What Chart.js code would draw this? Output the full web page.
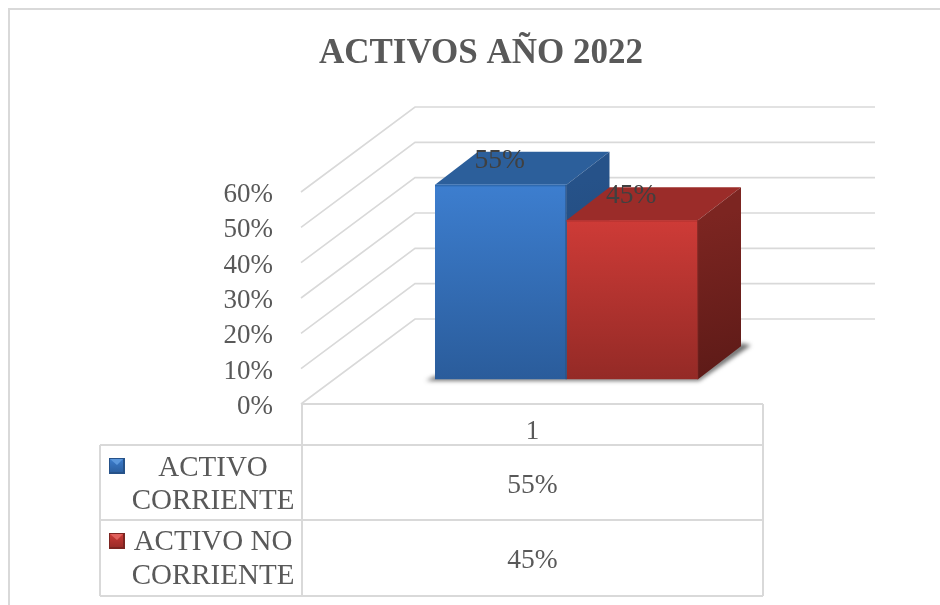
<!DOCTYPE html>
<html>
<head>
<meta charset="utf-8">
<style>html,body{margin:0;padding:0;background:#fff}canvas{display:block}</style>
<script src="https://cdn.jsdelivr.net/npm/chart.js@4"></script>
</head>
<body>
<canvas id="c" width="940" height="605"></canvas>
<script>
const chartTitle = "ACTIVOS AÑO 2022";
const categories = ["1"];
const seriesOneName = ["ACTIVO", "CORRIENTE"];
const seriesTwoName = ["ACTIVO NO", "CORRIENTE"];
const seriesOneValues = [55];
const seriesTwoValues = [45];
const yTickMax = 60;
const yTickStep = 10;

const FONT = '"Liberation Serif","Times New Roman",serif';
const TEXT = '#595959', LABEL = '#404040', LINE = '#d9d9d9';
const wall = {dx: 113, dy: -85};
const barShift = {dx: 34, dy: -24.8};
const depth = {dx: 43, dy: -33};
const palette = [
  {top:'#3d7ecf', bot:'#2a5c9b', lid:'#2c5f9b', s1:'#265289', s2:'#1f4470', e:'#2f6ab0', k:'#5b97dc', d:'#2a4f7d'},
  {top:'#ce3b37', bot:'#942a26', lid:'#9b2c29', s1:'#7c2521', s2:'#5c1a17', e:'#b83431', k:'#e0605c', d:'#8e2c28'}
];

function frontFill(i){
  return c => {
    const ch = c.chart, a = ch.chartArea;
    if(!a) return palette[i].top;
    const y = ch.scales.y;
    const t = y.getPixelForValue(c.raw === undefined ? 0 : c.raw);
    const g = ch.ctx.createLinearGradient(0,t,0,y.getPixelForValue(0));
    g.addColorStop(0,palette[i].top); g.addColorStop(1,palette[i].bot);
    return g;
  };
}
function poly(ctx,pts){ctx.beginPath();pts.forEach((p,i)=>i?ctx.lineTo(p[0],p[1]):ctx.moveTo(p[0],p[1]));ctx.closePath();}

const frame = {
  id:'frame',
  beforeDraw(ch){
    const c = ch.ctx; c.save();
    c.strokeStyle = LINE; c.lineWidth = 2;
    c.beginPath(); c.moveTo(9,605); c.lineTo(9,9); c.lineTo(940,9); c.stroke();
    c.restore();
  }
};
const walls = {
  id:'walls',
  beforeDatasetsDraw(ch){
    const c = ch.ctx, y = ch.scales.y, a = ch.chartArea;
    c.save(); c.strokeStyle = LINE; c.lineWidth = 1.6;
    y.ticks.forEach(t=>{
      const p = y.getPixelForValue(t.value);
      c.beginPath(); c.moveTo(a.left-1,p);
      c.lineTo(a.left+wall.dx,p+wall.dy);
      c.lineTo(a.right+wall.dx-1,p+wall.dy);
      c.stroke();
    });
    c.restore();
  }
};
const bars3d = {
  id:'bars3d',
  beforeDatasetsDraw(ch){
    const c = ch.ctx;
    c.save();
    c.translate(barShift.dx,barShift.dy);
    const m0 = ch.getDatasetMeta(0).data[0], m1 = ch.getDatasetMeta(1).data[0];
    const L = m0.x-m0.width/2, R = m1.x+m1.width/2, B = m0.base;
    c.save(); c.filter='blur(2px)'; c.fillStyle='rgba(60,60,60,.75)';
    poly(c,[[L-9,B+1.5],[R+1,B+1.5],[R+depth.dx+10,B+depth.dy-1],[R+depth.dx,B+depth.dy-3],[R,B-3],[L,B-3]]);
    c.fill(); c.restore();
    [m0,m1].forEach((b,i)=>{
      const l=b.x-b.width/2, r=b.x+b.width/2, t=b.y, p=palette[i];
      c.fillStyle=p.lid;
      poly(c,[[l,t],[r,t],[r+depth.dx,t+depth.dy],[l+depth.dx,t+depth.dy]]); c.fill();
      const g=c.createLinearGradient(r,t,r+depth.dx,B);
      g.addColorStop(0,p.s1); g.addColorStop(1,p.s2);
      c.fillStyle=g;
      poly(c,[[r,t],[r+depth.dx,t+depth.dy],[r+depth.dx,b.base+depth.dy],[r,b.base]]); c.fill();
    });
  },
  afterDatasetsDraw(ch){
    const c = ch.ctx;
    [0,1].forEach(i=>{
      const b=ch.getDatasetMeta(i).data[0], l=b.x-b.width/2;
      c.fillStyle=palette[i].e; c.fillRect(l,b.y,b.width,1.5);
      c.fillStyle=palette[i].d; c.fillRect(l+b.width-1,b.y,1.2,b.base-b.y);
    });
    c.restore();
    c.fillStyle=LABEL; c.font='27.5px '+FONT; c.textAlign='center'; c.textBaseline='middle';
    ch.data.datasets.forEach((ds,i)=>{
      const b=ch.getDatasetMeta(i).data[0];
      c.fillText(ds.data[0]+'%',b.x+barShift.dx-1,b.y+barShift.dy-24);
    });
  }
};
const dataTable = {
  id:'dataTable',
  afterDraw(ch){
    const c = ch.ctx, a = ch.chartArea;
    const rows=[445,520,596], keyX=100, x0=a.left, x1=a.right;
    c.save(); c.strokeStyle=LINE; c.lineWidth=2;
    c.beginPath();
    c.moveTo(x0,a.bottom); c.lineTo(x1,a.bottom);
    rows.forEach(r=>{c.moveTo(keyX,r);c.lineTo(x1,r);});
    c.moveTo(x0,a.bottom); c.lineTo(x0,rows[2]);
    c.moveTo(x1,a.bottom); c.lineTo(x1,rows[2]);
    c.moveTo(keyX,rows[0]); c.lineTo(keyX,rows[2]);
    c.stroke();
    c.font='29px '+FONT; c.textAlign='center'; c.textBaseline='middle'; c.fillStyle=TEXT;
    const names=[seriesOneName,seriesTwoName], lineY=[[468,501],[542,576]], keyY=[458,533];
    names.forEach((n,i)=>{
      c.fillText(n[0],213,lineY[i][0]);
      c.fillText(n[1],213,lineY[i][1]);
      const p=palette[i], kx=109, ky=keyY[i], s=16;
      const g=c.createLinearGradient(0,ky,0,ky+s);
      g.addColorStop(0,p.top); g.addColorStop(1,p.bot);
      c.fillStyle=p.s1; c.fillRect(kx,ky,s,s);
      c.fillStyle=g; c.fillRect(kx+1,ky+1,s-3,s-3);
      c.fillStyle=p.k; poly(c,[[kx+1,ky+1],[kx+s-2,ky+1],[kx+s/2,ky+7]]); c.fill();
      c.fillStyle=TEXT;
    });
    c.font='27.5px '+FONT;
    c.fillText(seriesOneValues[0]+'%',(x0+x1)/2,486);
    c.fillText(seriesTwoValues[0]+'%',(x0+x1)/2,561);
    c.restore();
  }
};

new Chart(document.getElementById('c'),{
  type:'bar',
  data:{
    labels:categories,
    datasets:[
      {label:seriesOneName.join(' '),data:seriesOneValues,backgroundColor:frontFill(0),clip:false},
      {label:seriesTwoName.join(' '),data:seriesTwoValues,backgroundColor:frontFill(1),clip:false}
    ]
  },
  plugins:[frame,walls,bars3d,dataTable],
  options:{
    responsive:false,
    animation:false,
    events:[],
    layout:{padding:{left:30,right:8,top:0,bottom:0}},
    datasets:{bar:{categoryPercentage:0.5705,barPercentage:1}},
    plugins:{
      legend:{display:false},
      tooltip:{enabled:false},
      title:{
        display:true,text:chartTitle,color:TEXT,
        font:{family:FONT,size:35,weight:'bold',lineHeight:1.2},
        padding:{top:33,bottom:117}
      }
    },
    scales:{
      x:{
        grid:{display:false,drawTicks:false},border:{display:false},
        ticks:{color:TEXT,font:{family:FONT,size:27},padding:12,maxRotation:0},
        afterFit(s){s.height=201;}
      },
      y:{
        min:0,max:yTickMax,
        grid:{display:false,drawTicks:false},border:{display:false},
        ticks:{stepSize:yTickStep,autoSkip:false,color:TEXT,font:{family:FONT,size:27},padding:29,labelOffset:3,callback:v=>v+'%'},
        afterFit(s){s.width=272;}
      },
      edge:{
        position:'right',min:0,max:yTickMax,
        grid:{display:false,drawTicks:false},border:{display:false},
        ticks:{display:false},
        afterFit(s){s.width=169;}
      }
    }
  }
});
</script>
</body>
</html>
